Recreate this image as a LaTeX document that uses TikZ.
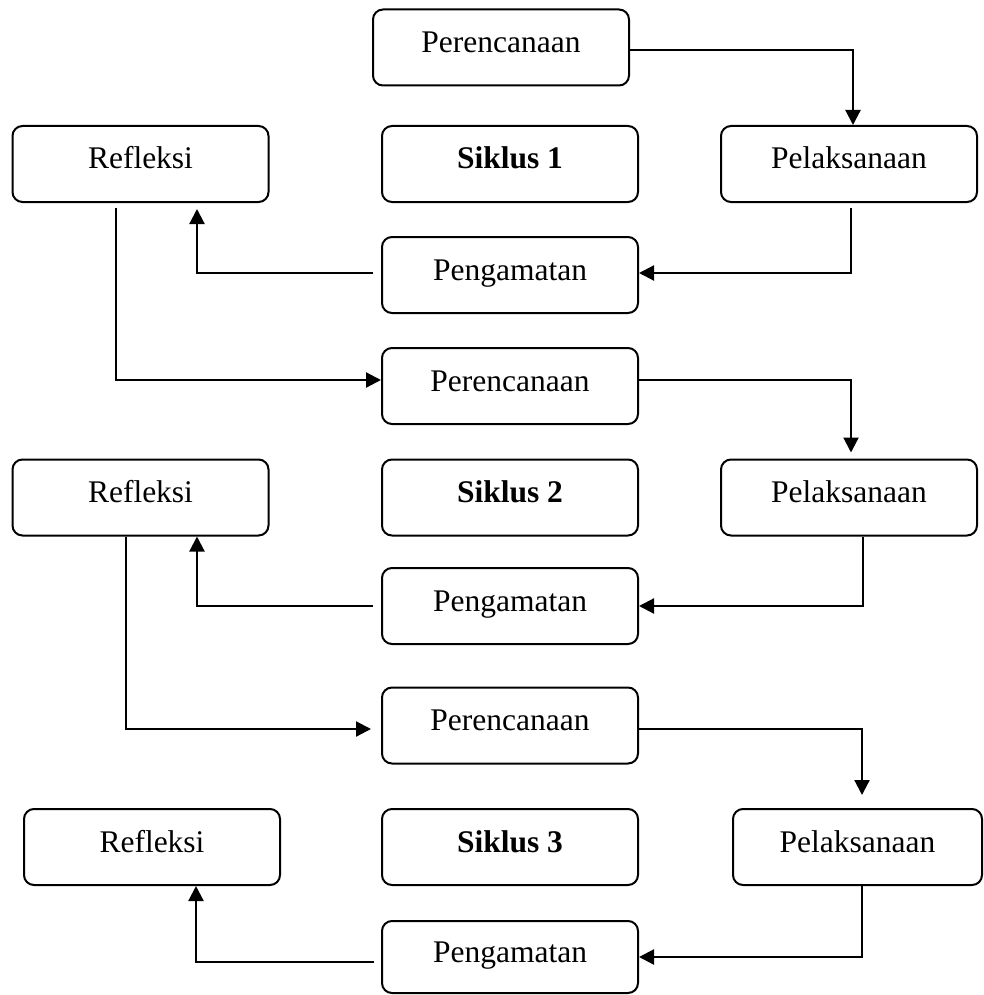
\documentclass[tikz,border=0pt]{standalone}
\usepackage{fontspec}
\setmainfont{Liberation Serif}
\usetikzlibrary{arrows.meta}
\begin{document}
\begin{tikzpicture}[x=1pt,y=-1pt,
  box/.style={draw, line width=2pt, rounded corners=10pt, minimum width=256pt, minimum height=76pt,
    inner sep=0pt, text height=20pt, text depth=10pt, font=\fontsize{31.5}{38}\selectfont},
  arr/.style={line width=2.2pt, -{Triangle[length=15pt,width=15pt]}}]
\useasboundingbox (0,0) rectangle (984,995);
\node[box] (per1) at (501,47.5) {Perencanaan};
\node[box] (ref1) at (140.5,164) {Refleksi};
\node[box] (sik1) at (510,164) {\bfseries Siklus 1};
\node[box] (pel1) at (849,164) {Pelaksanaan};
\node[box] (peng1) at (510,275) {Pengamatan};
\node[box] (per2) at (510,386) {Perencanaan};
\node[box] (ref2) at (140.5,497.5) {Refleksi};
\node[box] (sik2) at (510,497.5) {\bfseries Siklus 2};
\node[box] (pel2) at (849,497.5) {Pelaksanaan};
\node[box] (peng2) at (510,606) {Pengamatan};
\node[box] (per3) at (510,725.5) {Perencanaan};
\node[box] (ref3) at (152,847) {Refleksi};
\node[box] (sik3) at (510,847) {\bfseries Siklus 3};
\node[box, minimum width=249pt] (pel3) at (857.5,847) {Pelaksanaan};
\node[box, minimum height=72pt] (peng3) at (510,957) {Pengamatan};
\draw[arr] ([yshift=-2.5pt]per1.east) -| ([xshift=4pt]pel1.north);
\draw[arr] ([xshift=2pt,yshift=-5pt]pel1.south) |- ([yshift=2pt]peng1.east);
\draw[arr] ([xshift=-8pt,yshift=2pt]peng1.west) -| ([xshift=56.5pt,yshift=-6pt]ref1.south);
\draw[arr] ([xshift=-24.5pt,yshift=-5pt]ref1.south) |- ([yshift=6pt]per2.west);
\draw[arr] ([yshift=6pt]per2.east) -| ([xshift=2pt,yshift=6pt]pel2.north);
\draw[arr] ([xshift=14pt]pel2.south) |- (peng2.east);
\draw[arr] ([xshift=-8pt]peng2.west) -| ([xshift=56.5pt]ref2.south);
\draw[arr] ([xshift=-14.5pt]ref2.south) |- ([xshift=-10pt,yshift=-3.5pt]per3.west);
\draw[arr] ([yshift=-3.5pt]per3.east) -| ([xshift=4.5pt,yshift=13pt]pel3.north);
\draw[arr] ([xshift=4.5pt]pel3.south) |- (peng3.east);
\draw[arr] ([xshift=-7pt,yshift=-5pt]peng3.west) -| ([xshift=44pt]ref3.south);
\end{tikzpicture}
\end{document}
